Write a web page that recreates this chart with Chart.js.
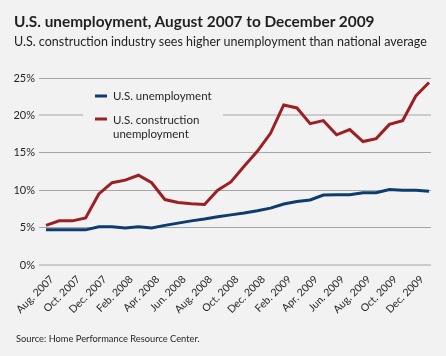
<!DOCTYPE html>
<html><head><meta charset="utf-8">
<script src="https://cdn.jsdelivr.net/npm/chart.js@4.4.1/dist/chart.umd.min.js"></script>
<style>
html,body{margin:0;padding:0;background:#f2f2f2;}
body{width:446px;height:356px;position:relative;overflow:hidden;font-family:Lato,sans-serif;color:#231f20;}
#title{position:absolute;left:14px;top:12px;font-size:15.4px;font-weight:bold;line-height:18px;white-space:nowrap;}
#subtitle{position:absolute;left:14px;top:35px;font-size:12.5px;line-height:14px;white-space:nowrap;}
#source{position:absolute;left:16px;top:333px;font-size:9.3px;line-height:12px;white-space:nowrap;}
canvas{position:absolute;left:0;top:0;}
</style></head>
<body>
<canvas id="c" width="446" height="356"></canvas>
<div id="title">U.S. unemployment, August 2007 to December 2009</div>
<div id="subtitle">U.S. construction industry sees higher unemployment than national average</div>
<div id="source">Source: Home Performance Resource Center.</div>
<script>
const months = ['Aug. 2007','Sep. 2007','Oct. 2007','Nov. 2007','Dec. 2007','Jan. 2008','Feb. 2008','Mar. 2008','Apr. 2008','May 2008','Jun. 2008','Jul. 2008','Aug. 2008','Sep. 2008','Oct. 2008','Nov. 2008','Dec. 2008','Jan. 2009','Feb. 2009','Mar. 2009','Apr. 2009','May 2009','Jun. 2009','Jul. 2009','Aug. 2009','Sep. 2009','Oct. 2009','Nov. 2009','Dec. 2009','Jan. 2010'];
const usUnemployment = [4.7,4.7,4.7,4.7,5.1,5.1,4.95,5.1,4.95,5.3,5.6,5.9,6.15,6.45,6.7,6.95,7.25,7.6,8.15,8.5,8.7,9.35,9.4,9.4,9.65,9.65,10.1,10.0,10.0,9.85];
const constructionUnemployment = [5.3,5.9,5.9,6.3,9.5,11.0,11.35,12.0,11.0,8.75,8.35,8.2,8.1,10.0,11.1,13.2,15.2,17.6,21.4,21.0,18.9,19.3,17.4,18.1,16.5,16.9,18.8,19.3,22.6,24.4];
const yTicks = [0,5,10,15,20,25];
const labeledMonths = [0,2,4,6,8,10,12,14,16,18,20,22,24,26,28];
const seriesNames = ['U.S. unemployment','U.S. construction\nunemployment'];

const FONT = 'Lato, sans-serif';
const TXT = '#231f20';

const insideLegend = {
  id: 'insideLegend',
  beforeDatasetsDraw(chart) {
    const ctx = chart.ctx;
    ctx.save();
    ctx.fillStyle = '#f2f2f2';
    ctx.fillRect(83, 84, 140, 58);
    const items = [{lineY: 96, textY: 100}, {lineY: 119, textY: 123.5}];
    chart.data.datasets.forEach((ds, i) => {
      const it = items[i];
      ctx.strokeStyle = ds.borderColor;
      ctx.lineWidth = 3;
      ctx.beginPath();
      ctx.moveTo(95, it.lineY);
      ctx.lineTo(107, it.lineY);
      ctx.stroke();
      ctx.fillStyle = TXT;
      ctx.font = '11.5px ' + FONT;
      ctx.textBaseline = 'alphabetic';
      ctx.textAlign = 'left';
      ds.label.split('\n').forEach((line, j) => {
        ctx.fillText(line, 113, it.textY + j * 14.7);
      });
    });
    ctx.restore();
  }
};

new Chart(document.getElementById('c'), {
  type: 'line',
  data: {
    datasets: [
      {
        label: seriesNames[0],
        data: usUnemployment.map((v, i) => ({x: i, y: v})),
        borderColor: '#0d3c6e',
        borderWidth: 3,
        pointRadius: 0,
        tension: 0,
        borderJoinStyle: 'miter'
      },
      {
        label: seriesNames[1],
        data: constructionUnemployment.map((v, i) => ({x: i, y: v})),
        borderColor: '#9c1f24',
        borderWidth: 3,
        pointRadius: 0,
        tension: 0,
        borderJoinStyle: 'miter'
      }
    ]
  },
  options: {
    responsive: false,
    animation: false,
    devicePixelRatio: 1,
    layout: {padding: {top: 78, right: 15, bottom: 0, left: 0}},
    plugins: {legend: {display: false}, tooltip: {enabled: false}, title: {display: false}},
    scales: {
      x: {
        type: 'linear',
        min: -0.53,
        max: 29.15,
        grid: {display: false},
        border: {display: false},
        afterBuildTicks: s => { s.ticks = labeledMonths.map(v => ({value: v})); },
        afterFit: s => { s.height = 91; },
        ticks: {
          autoSkip: false,
          minRotation: 45,
          maxRotation: 45,
          padding: 0,
          labelOffset: 6,
          color: TXT,
          font: {family: FONT, size: 10.5},
          callback: v => months[v]
        }
      },
      y: {
        min: 0,
        max: 25,
        border: {display: false},
        afterBuildTicks: s => { s.ticks = yTicks.map(v => ({value: v})); },
        afterFit: s => { s.width = 39; },
        grid: {
          drawTicks: false,
          color: c => (c.tick && (c.tick.value === 0 || c.tick.value === 20)) ? '#cbcbcb' : '#a6a6a6',
          lineWidth: c => (c.tick && (c.tick.value === 0 || c.tick.value === 20)) ? 2 : 1
        },
        ticks: {
          padding: 4,
          color: TXT,
          font: {family: FONT, size: 11},
          callback: v => v + '%'
        }
      }
    }
  },
  plugins: [insideLegend]
});
</script>
</body></html>
